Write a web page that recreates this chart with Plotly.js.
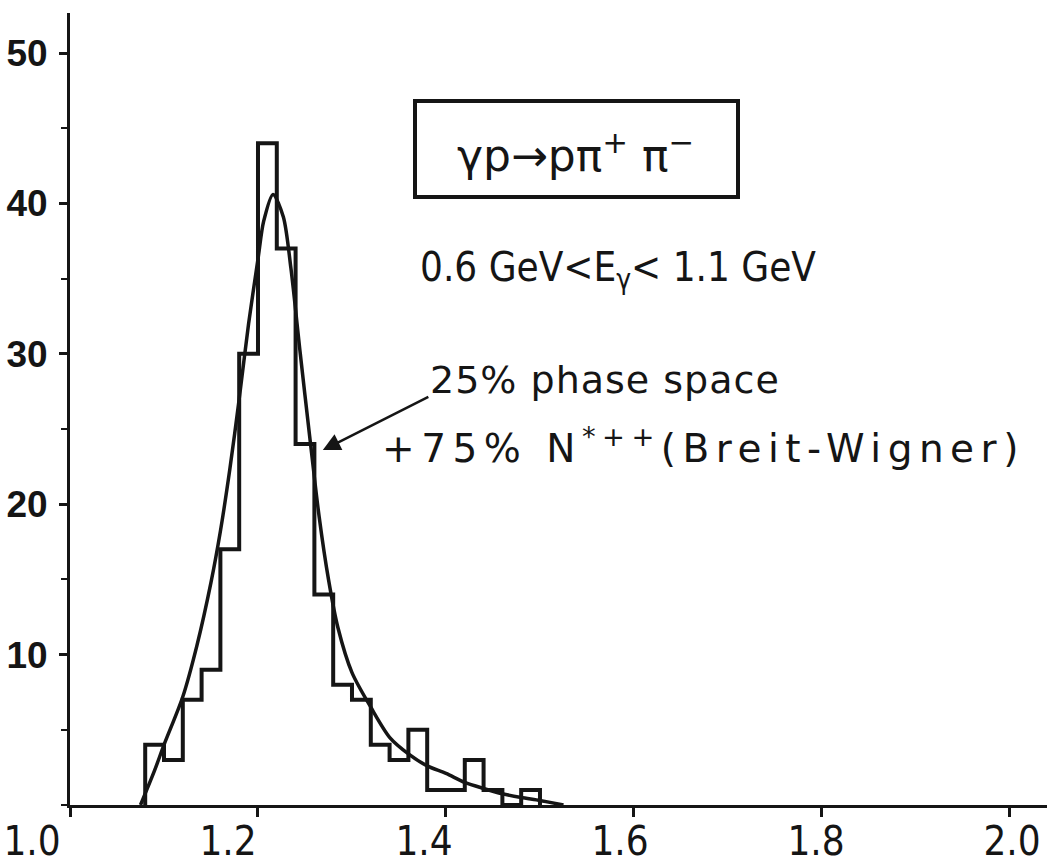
<!DOCTYPE html>
<html>
<head>
<meta charset="utf-8">
<script src="https://cdn.plot.ly/plotly-3.0.1.min.js"></script>
<style>
  html, body { margin: 0; padding: 0; background: #ffffff; }
  #chart { width: 1047px; height: 866px; }
  .annotation[data-index="3"] .annotation-text { letter-spacing: 6.5px; }
  .annotation[data-index="2"] .annotation-text { letter-spacing: 1px; }
</style>
</head>
<body>
<div id="chart"></div>
<script>
// ---- data ----
// histogram bin edges (GeV) and counts per bin
const binEdges = [1.08, 1.10, 1.12, 1.14, 1.16, 1.18, 1.20, 1.22, 1.24, 1.26, 1.28,
                  1.30, 1.32, 1.34, 1.36, 1.38, 1.40, 1.42, 1.44, 1.46, 1.48, 1.50];
const counts   = [4, 3, 7, 9, 17, 30, 44, 37, 24, 14, 8,
                  7, 4, 3, 5, 1, 1, 3, 1, 0, 1];

// fitted curve: 25% phase space + 75% N*++ (Breit-Wigner)
const curveX = [1.075, 1.09, 1.10, 1.12, 1.135, 1.15, 1.16, 1.17, 1.18, 1.19, 1.20,
                1.206, 1.216, 1.227, 1.235, 1.245, 1.255, 1.265, 1.275, 1.285, 1.30,
                1.32, 1.34, 1.36, 1.38, 1.40, 1.42, 1.44, 1.46, 1.48, 1.50, 1.525];
const curveY = [0, 2.3, 4.0, 7.2, 10.6, 14.8, 18.2, 22.3, 27.0, 32.0, 36.3,
                38.8, 40.6, 39.1, 35.7, 30.0, 24.5, 19.2, 15.0, 11.8, 8.8,
                6.5, 4.5, 3.4, 2.6, 2.1, 1.5, 1.1, 0.75, 0.5, 0.3, 0];

// axis ticks
const xTickVals = [1.0, 1.2, 1.4, 1.6, 1.8, 2.0];
const xTickText = ["1.0", "1.2", "1.4", "1.6", "1.8", "2.0"];
const yTickVals = [10, 20, 30, 40, 50];
const yTickText = ["10", "20", "30", "40", "50"];

// text labels
const reactionText = "γp→pπ<sup>+</sup> π<sup>−</sup>";
const energyText = "0.6 GeV<E<sub>γ</sub>< 1.1 GeV";
const fitText1 = "25% phase space";
const fitText2 = "+75% N<sup>*++</sup>(Breit-Wigner)";

// ---- build the step outline of the histogram ----
const histX = [binEdges[0]].concat(binEdges);
const histY = [0].concat(counts, [0]);

const ink = "#151515";

const traces = [
  {
    type: "scatter", mode: "lines",
    x: histX, y: histY,
    line: { shape: "hv", color: ink, width: 4 },
    hoverinfo: "skip", showlegend: false
  },
  {
    type: "scatter", mode: "lines",
    x: curveX, y: curveY,
    line: { shape: "spline", smoothing: 0.8, color: ink, width: 3.5 },
    hoverinfo: "skip", showlegend: false
  },
  // invisible carrier so the label axis (x2) is drawn
  {
    type: "scatter", mode: "markers",
    x: xTickVals, y: xTickVals.map(function () { return 0; }),
    xaxis: "x2", yaxis: "y",
    marker: { opacity: 0, size: 1 },
    hoverinfo: "skip", showlegend: false
  }
];

const labelFont = { family: "DejaVu Sans, sans-serif", size: 38, color: ink };

const layout = {
  width: 1047, height: 866,
  margin: { l: 0, r: 0, t: 13, b: 61, pad: 0 },
  paper_bgcolor: "#ffffff", plot_bgcolor: "rgba(0,0,0,0)",
  showlegend: false,
  xaxis: {
    domain: [70 / 1047, 1],
    range: [1.0, 2.0394],
    showgrid: false, zeroline: false,
    showline: true, linecolor: ink, linewidth: 3,
    tickmode: "array", tickvals: xTickVals,
    ticks: "outside", ticklen: 9, tickwidth: 3, tickcolor: ink,
    showticklabels: false,
    anchor: "y", fixedrange: true
  },
  // label axis: the hand-lettered x labels sit slightly left of their ticks
  xaxis2: {
    domain: [0, 1],
    range: [0.96735, 2.03572],
    anchor: "y", side: "bottom",
    showgrid: false, zeroline: false, showline: false,
    tickmode: "array", tickvals: xTickVals, ticktext: xTickText,
    ticks: "", ticklabelstandoff: 9,
    tickfont: { family: "Liberation Sans Narrow, DejaVu Sans Condensed, sans-serif", size: 40, color: ink },
    fixedrange: true
  },
  yaxis: {
    domain: [0, 1],
    range: [0, 52.66],
    anchor: "x",
    showgrid: false, zeroline: false,
    showline: true, linecolor: ink, linewidth: 3,
    tickmode: "array", tickvals: yTickVals, ticktext: yTickText,
    ticks: "outside", ticklen: 8, tickwidth: 3, tickcolor: ink,
    ticklabelstandoff: 4,
    tickfont: { family: "Liberation Sans, Arial, sans-serif", size: 37, color: ink, weight: "bold" },
    minor: { dtick: 5, tick0: 0, ticks: "outside", ticklen: 6, tickwidth: 2, tickcolor: ink, showgrid: false },
    fixedrange: true
  },
  shapes: [
    {
      type: "rect", xref: "paper", yref: "paper",
      x0: 415 / 1047, x1: 738 / 1047,
      y0: (805 - 197) / 792, y1: (805 - 101) / 792,
      line: { color: ink, width: 4 }, fillcolor: "rgba(0,0,0,0)"
    }
  ],
  annotations: [
    {
      text: reactionText, xref: "paper", yref: "paper",
      x: 575 / 1047, y: (805 - 152) / 792,
      xanchor: "center", yanchor: "middle", showarrow: false,
      font: { family: "DejaVu Sans, sans-serif", size: 44, color: ink }
    },
    {
      text: energyText, xref: "paper", yref: "paper",
      x: 618 / 1047, y: (805 - 270) / 792,
      xanchor: "center", yanchor: "middle", showarrow: false,
      font: { family: "DejaVu Sans Condensed, DejaVu Sans, sans-serif", size: 40, color: ink }
    },
    {
      text: fitText1, xref: "paper", yref: "paper",
      x: 428 / 1047, y: (805 - 380) / 792,
      xanchor: "left", yanchor: "middle", align: "left", showarrow: false,
      font: labelFont
    },
    {
      text: fitText2, xref: "paper", yref: "paper",
      x: 380 / 1047, y: (805 - 446) / 792,
      xanchor: "left", yanchor: "middle", align: "left", showarrow: false,
      font: { family: "DejaVu Sans, sans-serif", size: 39, color: ink }
    },
    {
      text: "", xref: "x", yref: "y",
      x: 1.269, y: 23.6,
      showarrow: true, axref: "pixel", ayref: "pixel",
      ax: 107, ay: -54,
      arrowhead: 2, arrowsize: 1.4, arrowwidth: 2.5, arrowcolor: ink,
      standoff: 0, startstandoff: 0
    }
  ]
};

Plotly.newPlot("chart", traces, layout, { staticPlot: true, displayModeBar: false });
</script>
</body>
</html>
